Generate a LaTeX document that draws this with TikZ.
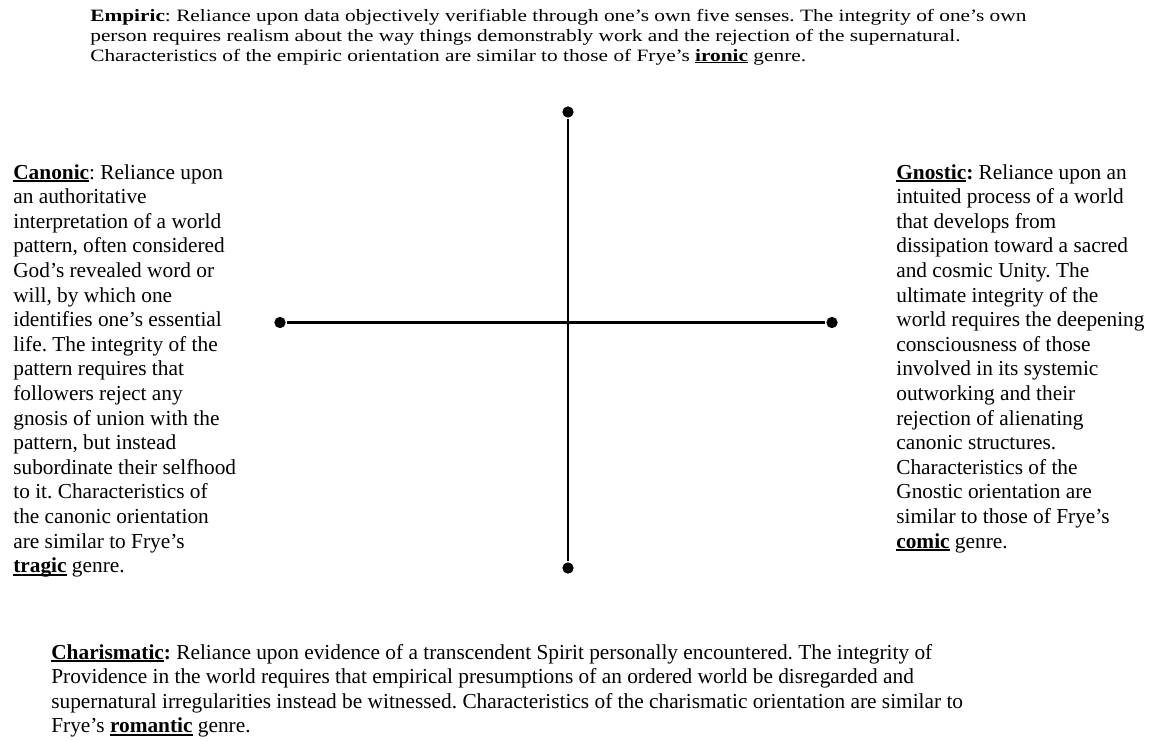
\documentclass[tikz,border=0pt]{standalone}
\usepackage{fontspec}
\usepackage{graphicx}
\setmainfont{Liberation Serif}
\frenchspacing
\newcommand{\uword}[1]{\leavevmode\setbox0\hbox{\textbf{#1}}\rlap{\rule[-2.2pt]{\wd0}{1.1pt}}\box0\relax}

\begin{document}
\begin{tikzpicture}[x=0.75pt, y=-0.75pt, line width=2pt,
    dot/.style={circle, fill, inner sep=0pt, minimum size=8.5pt},
    note/.style={anchor=base west, inner sep=0pt, font=\fontsize{16pt}{18.45pt}\selectfont}]
    \useasboundingbox (0,0) rectangle (1159,740);

    % Empiric text
    \node[note] (empiric) at (89,21) {\scalebox{1}[0.813]{\parbox[t]{780pt}{%
        \textbf{Empiric}: Reliance upon data objectively verifiable through one’s own five senses. The integrity of one’s own\\
        person requires realism about the way things demonstrably work and the rejection of the supernatural.\\
        Characteristics of the empiric orientation are similar to those of Frye’s \uword{ironic} genre.}}};

    % Canonic text
    \node[note] (canonic) at (12,179) {\parbox[t]{300pt}{%
        \uword{Canonic}: Reliance upon\\
        an authoritative\\
        interpretation of a world\\
        pattern, often considered\\
        God’s revealed word or\\
        will, by which one\\
        identifies one’s essential\\
        life. The integrity of the\\
        pattern requires that\\
        followers reject any\\
        gnosis of union with the\\
        pattern, but instead\\
        subordinate their selfhood\\
        to it. Characteristics of\\
        the canonic orientation\\
        are similar to Frye’s\\
        \uword{tragic} genre.}};

    % Gnostic text
    \node[note] (gnostic) at (895,179) {\parbox[t]{300pt}{%
        \uword{Gnostic}\textbf{:} Reliance upon an\\
        intuited process of a world\\
        that develops from\\
        dissipation toward a sacred\\
        and cosmic Unity. The\\
        ultimate integrity of the\\
        world requires the deepening\\
        consciousness of those\\
        involved in its systemic\\
        outworking and their\\
        rejection of alienating\\
        canonic structures.\\
        Characteristics of the\\
        Gnostic orientation are\\
        similar to those of Frye’s\\
        \uword{comic} genre.}};

    % Charismatic text
    \node[note] (charismatic) at (50,659) {\parbox[t]{780pt}{%
        \uword{Charismatic}\textbf{:} Reliance upon evidence of a transcendent Spirit personally encountered. The integrity of\\
        Providence in the world requires that empirical presumptions of an ordered world be disregarded and\\
        supernatural irregularities instead be witnessed. Characteristics of the charismatic orientation are similar to\\
        Frye’s \uword{romantic} genre.}};

    % Axis end points
    \node[dot] (top) at (568,112) {};
    \node[dot] (bottom) at (568,568) {};
    \node[dot] (left) at (280,322.5) {};
    \node[dot] (right) at (832,322.5) {};

    % Axes
    \draw (top) -- (bottom);
    \draw (left) -- (right);
\end{tikzpicture}
\end{document}
